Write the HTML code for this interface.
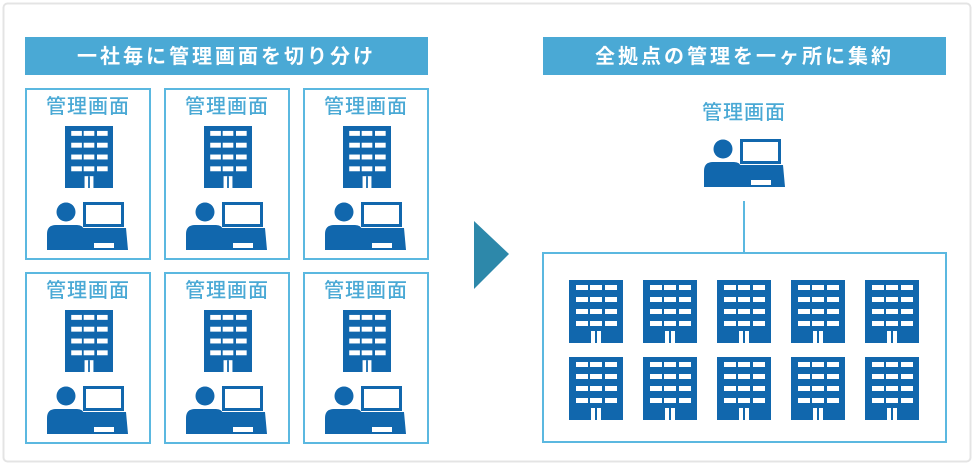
<!DOCTYPE html>
<html><head><meta charset="utf-8"><style>
html,body{margin:0;padding:0;background:#fff;}
svg{display:block;}
text{font-family:"Liberation Sans","Noto Sans CJK JP",sans-serif;}
</style></head><body>
<svg width="975" height="466" viewBox="0 0 975 466" xmlns="http://www.w3.org/2000/svg">
<defs>
<symbol id="b" viewBox="0 0 54 63" preserveAspectRatio="none">
<rect x="0" y="0" width="54" height="63" fill="#1167ad"/>
<g fill="#fff">
<rect x="7" y="5" width="12" height="5"/><rect x="21" y="5" width="12" height="5"/><rect x="36" y="5" width="12" height="5"/>
<rect x="7" y="17" width="12" height="5"/><rect x="21" y="17" width="12" height="5"/><rect x="36" y="17" width="12" height="5"/>
<rect x="7" y="29" width="12" height="5"/><rect x="21" y="29" width="12" height="5"/><rect x="36" y="29" width="12" height="5"/>
<rect x="7" y="41" width="12" height="5"/><rect x="21" y="41" width="12" height="5"/><rect x="36" y="41" width="12" height="5"/>
<rect x="22" y="51" width="10" height="12"/>
</g>
<rect x="26" y="51" width="2" height="12" fill="#1167ad"/>
</symbol>
<g id="p">
<circle cx="19" cy="10" r="9.5" fill="#1167ad"/>
<path d="M0 48 L0 32 Q0 23 9 23 L30 23 Q36 23 37 28 L37 48 Z" fill="#1167ad"/>
<rect x="37.5" y="1.5" width="38" height="22" fill="#fff" stroke="#1167ad" stroke-width="3"/>
<path d="M35 26 L79 26 L81 48 L35 48 Z" fill="#1167ad"/>
<rect x="47" y="41" width="20" height="5" fill="#fff"/>
</g>
</defs>
<rect x="3.5" y="3.5" width="967" height="458" rx="4" fill="#fff" stroke="#e4e4e4" stroke-width="2"/>
<rect x="25" y="37" width="403" height="38" fill="#4aa9d5"/>
<text x="226.5" y="63" text-anchor="middle" font-size="20" font-weight="bold" fill="#fff" letter-spacing="3">一社毎に管理画面を切り分け</text>
<rect x="543" y="37" width="403" height="38" fill="#4aa9d5"/>
<text x="744.5" y="63" text-anchor="middle" font-size="20" font-weight="bold" fill="#fff" letter-spacing="3">全拠点の管理を一ヶ所に集約</text>

<g id="c1">
<rect x="26" y="89" width="124" height="170" fill="none" stroke="#5bb8e0" stroke-width="2"/>
<text x="88" y="113" text-anchor="middle" font-size="20" font-weight="500" fill="#4aa9d5" letter-spacing="1">管理画面</text>
<use href="#b" x="65" y="126" width="48" height="62"/>
<use href="#p" x="0" y="0" transform="translate(47,202)"/>
</g>
<use href="#c1" x="139" y="0"/>
<use href="#c1" x="278" y="0"/>
<use href="#c1" x="0" y="184"/>
<use href="#c1" x="139" y="184"/>
<use href="#c1" x="278" y="184"/>

<polygon points="474,221 509,254 474,289" fill="#2d88aa"/>

<text x="744" y="119" text-anchor="middle" font-size="20" font-weight="500" fill="#4aa9d5" letter-spacing="1">管理画面</text>
<use href="#p" transform="translate(704,139)"/>
<line x1="744" y1="201" x2="744" y2="253" stroke="#5bb8e0" stroke-width="2"/>
<rect x="543" y="253" width="403" height="189" fill="none" stroke="#5bb8e0" stroke-width="2"/>
<use href="#b" x="569" y="280" width="54" height="63"/>
<use href="#b" x="643" y="280" width="54" height="63"/>
<use href="#b" x="717" y="280" width="54" height="63"/>
<use href="#b" x="791" y="280" width="54" height="63"/>
<use href="#b" x="865" y="280" width="54" height="63"/>
<use href="#b" x="569" y="357" width="54" height="63"/>
<use href="#b" x="643" y="357" width="54" height="63"/>
<use href="#b" x="717" y="357" width="54" height="63"/>
<use href="#b" x="791" y="357" width="54" height="63"/>
<use href="#b" x="865" y="357" width="54" height="63"/>
</svg>
</body></html>
